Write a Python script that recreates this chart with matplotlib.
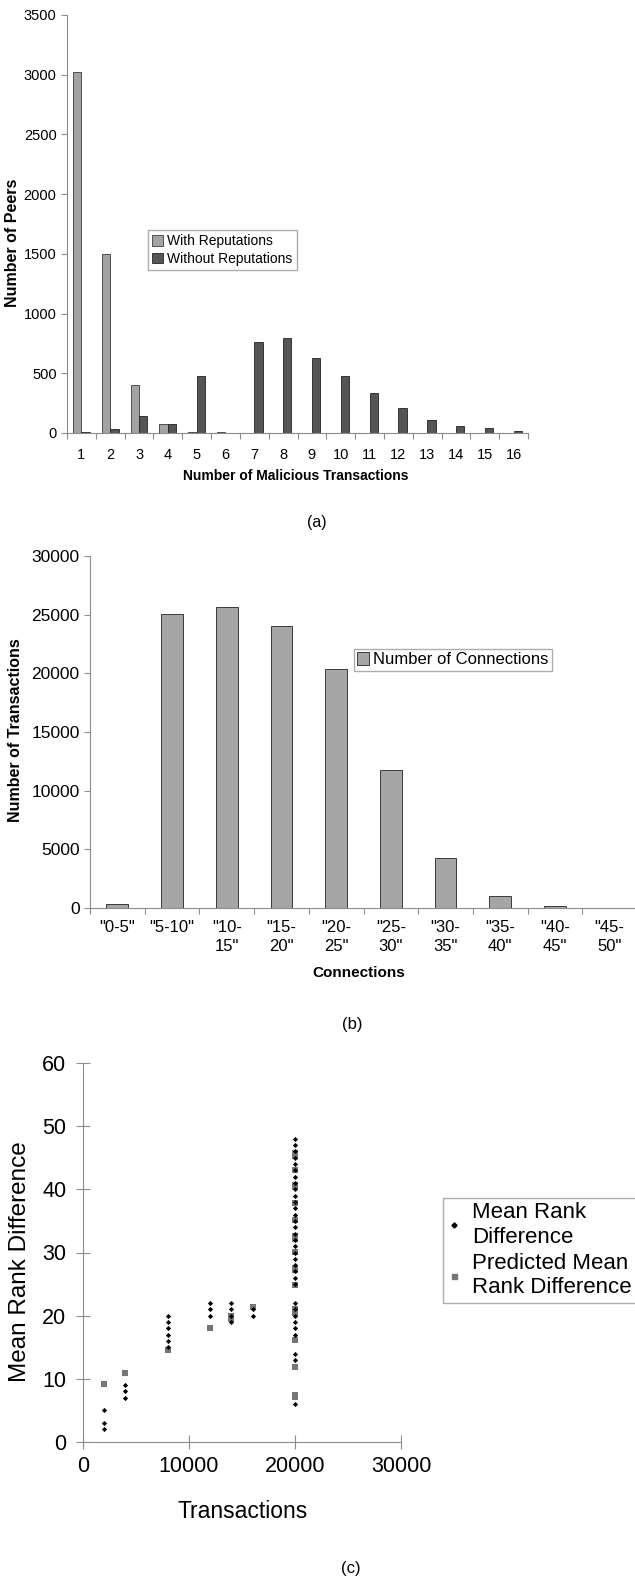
import matplotlib
matplotlib.use("Agg")
import matplotlib.pyplot as plt
from matplotlib.lines import Line2D
import numpy as np

plt.rcParams['font.family'] = ['Liberation Sans', 'DejaVu Sans']

# (a) malicious transactions per peer
malicious = list(range(1, 17))
with_rep = [3020, 1500, 398, 75, 5, 5, 0, 0, 0, 0, 0, 0, 0, 0, 0, 0]
without_rep = [5, 35, 143, 75, 478, 3, 760, 795, 630, 474, 335, 207, 106, 56, 45, 15]

# (b) transactions by connection bucket
conn_labels = ['"0-5"', '"5-10"', '"10-\n15"', '"15-\n20"', '"20-\n25"',
               '"25-\n30"', '"30-\n35"', '"35-\n40"', '"40-\n45"', '"45-\n50"']
conn_counts = [315, 25090, 25690, 24070, 20400, 11760, 4240, 1060, 145, 0]

# (c) mean rank difference vs transactions
mrd_x = ([2000] * 3 + [4000] * 3 + [8000] * 6 + [12000] * 3 + [14000] * 4
         + [16000] * 2 + [20000] * 33)
mrd_y = ([2, 3, 5] + [7, 8, 9] + [15, 16, 17, 18, 19, 20] + [20, 21, 22]
         + [19, 20, 21, 22] + [20, 21]
         + [6, 13, 14, 17, 18, 19, 20, 21, 22,
            25, 26, 27, 28, 29, 30, 31, 32, 33, 34, 35, 36, 37, 38, 39, 40,
            41, 42, 43, 44, 45, 46, 47, 48])
pred_x = ([2000, 4000, 8000, 12000, 14000, 14000, 16000]
          + [20000] * 19)
pred_y = ([9.2, 11.0, 14.5, 18.0, 19.5, 20.0, 21.3]
          + [7.2, 7.5, 11.8, 16.2, 20.5, 21.0, 24.9, 27.3, 27.6, 30.1,
             32.2, 32.6, 35.2, 37.9, 40.3, 40.7, 43.0, 45.3, 45.8])

W, H = 635, 1578
AX = '#8c8c8c'


def box(l, t, r, b):
    return [l / W, 1 - b / H, (r - l) / W, (b - t) / H]


def fx(x):
    return x / W


def fy(y):
    return 1 - y / H


def plain_axes(ax):
    for s in ('top', 'right'):
        ax.spines[s].set_visible(False)
    for s in ('left', 'bottom'):
        ax.spines[s].set_color(AX)
        ax.spines[s].set_linewidth(0.8)


fig = plt.figure(figsize=(W / 100, H / 100), dpi=100)

# ---- (a)
ax1 = fig.add_axes(box(67, 15, 528, 433))
plain_axes(ax1)
pos = np.arange(len(malicious))
bw = 0.29
ax1.bar(pos - bw / 2, with_rep, bw, color='#a3a3a3', edgecolor='#3a3a3a',
        linewidth=0.6, label='With Reputations')
ax1.bar(pos + bw / 2, without_rep, bw, color='#555555', edgecolor='#222222',
        linewidth=0.6, label='Without Reputations')
ax1.set_xlim(-0.5, len(malicious) - 0.5)
ax1.set_ylim(0, 3500)
ax1.set_yticks(range(0, 3501, 500))
ax1.set_xticks(pos)
ax1.set_xticklabels([str(m) for m in malicious])
ax1.set_xticks(np.arange(-0.5, len(malicious)), minor=True)
ax1.tick_params(axis='x', which='major', length=0, pad=11, labelsize=10.5)
ax1.tick_params(axis='x', which='minor', length=4.5, color=AX, width=0.8)
ax1.tick_params(axis='y', length=4.5, color=AX, width=0.8, labelsize=10.5, pad=3)
ax1.legend(loc='upper left', bbox_to_anchor=(fx(148), fy(230)),
           bbox_transform=fig.transFigure, frameon=True, fancybox=False,
           edgecolor='#999999', fontsize=10, handlelength=0.8,
           handleheight=0.8, handletextpad=0.3, borderpad=0.3,
           labelspacing=0.25, borderaxespad=0)
fig.text(fx(13), fy(243), 'Number of Peers', rotation=90, ha='center',
         va='center', fontsize=11.5, fontweight='bold')
fig.text(fx(296), fy(476), 'Number of Malicious Transactions', ha='center',
         va='center', fontsize=10, fontweight='bold')
fig.text(fx(317), fy(522), '(a)', ha='center', va='center', fontsize=11.5)

# ---- (b)
ax2 = fig.add_axes(box(90, 556, 637, 908))
plain_axes(ax2)
cpos = np.arange(len(conn_labels))
ax2.bar(cpos, conn_counts, 0.4, color='#a6a6a6', edgecolor='#3a3a3a',
        linewidth=0.7, label='Number of Connections')
ax2.set_xlim(-0.5, len(conn_labels) - 0.5)
ax2.set_ylim(0, 30000)
ax2.set_yticks(range(0, 30001, 5000))
ax2.set_xticks(cpos)
ax2.set_xticklabels(conn_labels, linespacing=1.3)
ax2.set_xticks(np.arange(-0.5, len(conn_labels)), minor=True)
ax2.tick_params(axis='x', which='major', length=0, pad=9, labelsize=12)
ax2.tick_params(axis='x', which='minor', length=4.5, color=AX, width=0.8)
ax2.tick_params(axis='y', length=4.5, color=AX, width=0.8, labelsize=12.5, pad=3)
ax2.legend(loc='upper left', bbox_to_anchor=(fx(354), fy(649)),
           bbox_transform=fig.transFigure, frameon=True, fancybox=False,
           edgecolor='#999999', fontsize=12, handlelength=0.7,
           handleheight=0.8, handletextpad=0.25, borderpad=0.2,
           borderaxespad=0)
fig.text(fx(16), fy(730), 'Number of Transactions', rotation=90, ha='center',
         va='center', fontsize=11.5, fontweight='bold')
fig.text(fx(359), fy(973), 'Connections', ha='center', va='center',
         fontsize=11, fontweight='bold')
fig.text(fx(352), fy(1024), '(b)', ha='center', va='center', fontsize=12)

# ---- (c)
ax3 = fig.add_axes(box(83, 1063, 401, 1442))
plain_axes(ax3)
ax3.scatter(mrd_x, mrd_y, marker='D', s=7, color='black', linewidths=0,
            zorder=3)
ax3.scatter(pred_x, pred_y, marker='s', s=17, color='#767676', linewidths=0,
            zorder=2)
ax3.set_xlim(0, 30000)
ax3.set_ylim(0, 60)
ax3.set_xticks(range(0, 30001, 10000))
ax3.set_yticks(range(0, 61, 10))
ax3.tick_params(direction='inout', length=10, color=AX, width=0.8,
                labelsize=15.5)
ax3.tick_params(axis='x', pad=5)
ax3.tick_params(axis='y', pad=7)
handles = [Line2D([], [], marker='D', ls='none', color='black', ms=2.6),
           Line2D([], [], marker='s', ls='none', color='#767676', ms=3.6)]
ax3.legend(handles, ['Mean Rank\nDifference', 'Predicted Mean\nRank Difference'],
           loc='upper left', bbox_to_anchor=(fx(443), fy(1198)),
           bbox_transform=fig.transFigure, frameon=True, fancybox=False,
           edgecolor='#999999', fontsize=16, handlelength=0.6,
           handletextpad=0.5, borderpad=0.2, labelspacing=0.25,
           borderaxespad=0)
fig.text(fx(20), fy(1262), 'Mean Rank Difference', rotation=90, ha='center',
         va='center', fontsize=17.5)
fig.text(fx(243), fy(1511), 'Transactions', ha='center', va='center',
         fontsize=16.5)
fig.text(fx(351), fy(1568), '(c)', ha='center', va='center', fontsize=12)

fig.savefig('out.png', dpi=100)
